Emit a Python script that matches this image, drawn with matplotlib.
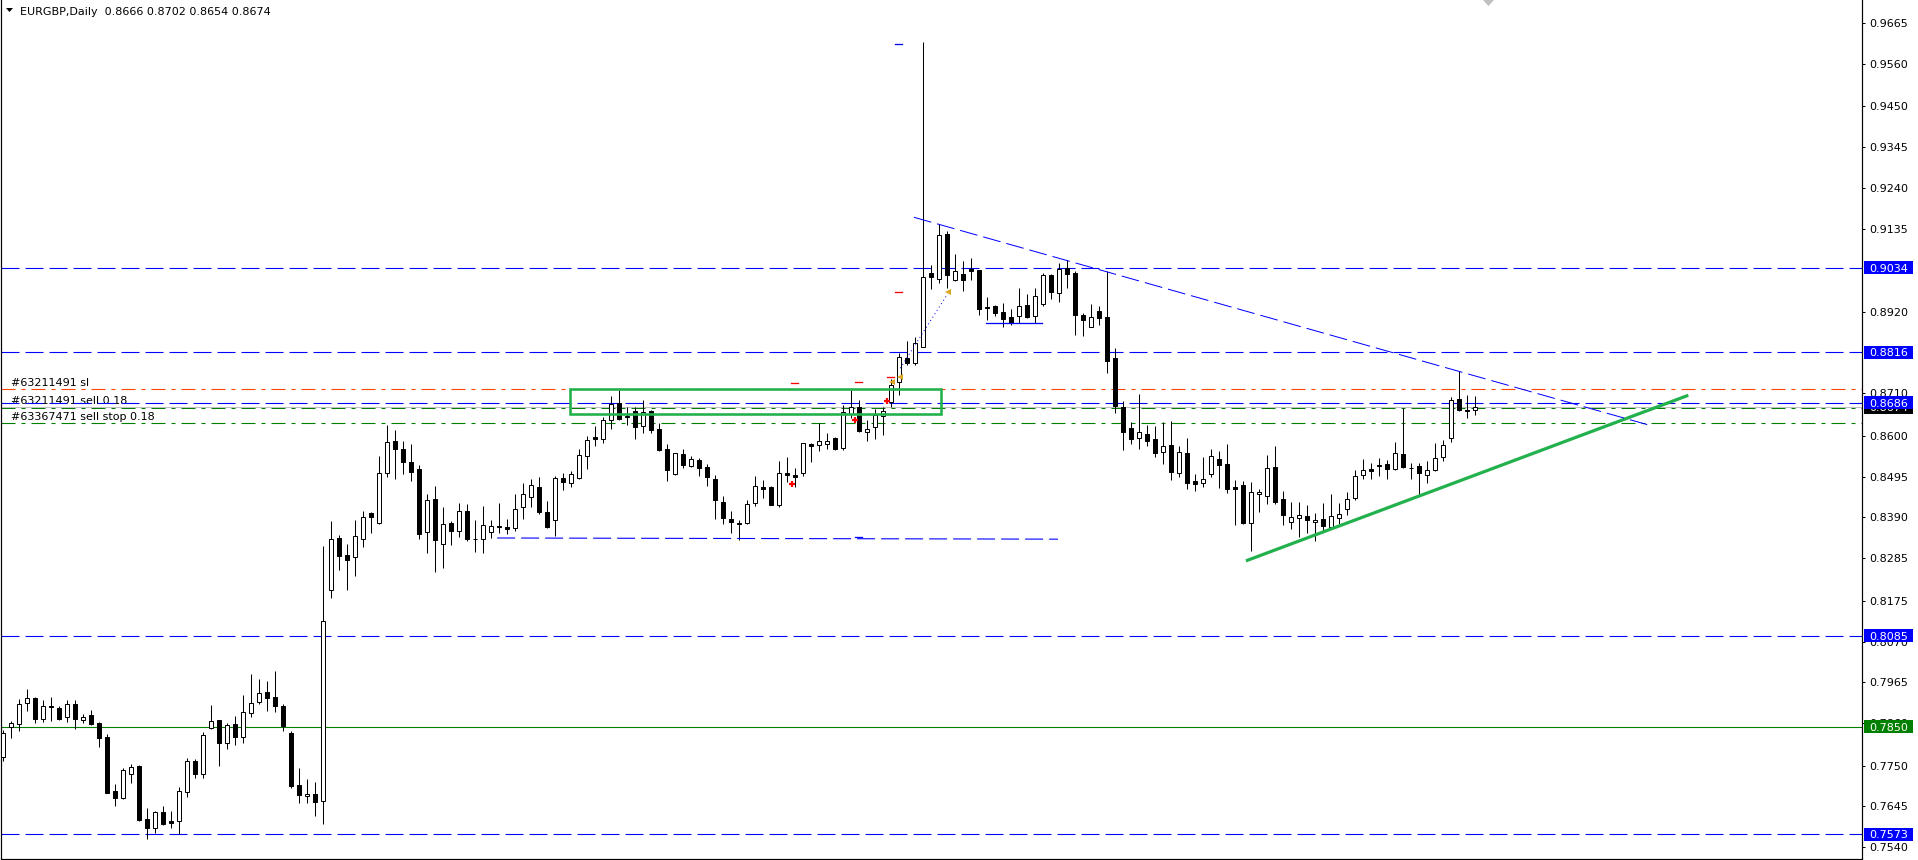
import matplotlib.pyplot as plt
import numpy as np
from matplotlib.patches import Rectangle, Polygon

plt.rcParams['font.family'] = ['DejaVu Sans']
plt.rcParams['lines.scale_dashes'] = False

# EURGBP daily candles
opens = [0.7773, 0.7849, 0.7857, 0.7911, 0.7924, 0.7871, 0.7903, 0.7898, 0.7875, 0.7908,
         0.7867, 0.7880, 0.7859, 0.7823, 0.7684, 0.7666, 0.7728, 0.7749, 0.7612, 0.7588,
         0.7630, 0.7606, 0.7608, 0.7683, 0.7761, 0.7729, 0.7848, 0.7867, 0.7808, 0.7857,
         0.7825, 0.7885, 0.7913, 0.7939, 0.7927, 0.7904, 0.7834, 0.7700, 0.7671, 0.7678,
         0.7660, 0.8202, 0.8337, 0.8293, 0.8287, 0.8334, 0.8401, 0.8375, 0.8504, 0.8586,
         0.8566, 0.8533, 0.8515, 0.8352, 0.8437, 0.8321, 0.8375, 0.8354, 0.8406, 0.8335,
         0.8334, 0.8352, 0.8367, 0.8365, 0.8364, 0.8416, 0.8442, 0.8468, 0.8403, 0.8383,
         0.8491, 0.8478, 0.8491, 0.8548, 0.8597, 0.8591, 0.8640, 0.8685, 0.8649, 0.8664,
         0.8625, 0.8664, 0.8617, 0.8566, 0.8501, 0.8553, 0.8522, 0.8537, 0.8519, 0.8489,
         0.8429, 0.8385, 0.8376, 0.8375, 0.8426, 0.8468, 0.8468, 0.8423, 0.8504, 0.8499,
         0.8504, 0.8579, 0.8576, 0.8580, 0.8594, 0.8570, 0.8657, 0.8674, 0.8611, 0.8622,
         0.8651, 0.8688, 0.8738, 0.8801, 0.8789, 0.8829, 0.9020, 0.9006, 0.9121, 0.9002,
         0.9018, 0.9030, 0.9028, 0.8932, 0.8935, 0.8919, 0.8906, 0.8910, 0.8937, 0.8909,
         0.8940, 0.9016, 0.8968, 0.9034, 0.9020, 0.8911, 0.8880, 0.8922, 0.8907, 0.8801,
         0.8675, 0.8621, 0.8594, 0.8605, 0.8592, 0.8558, 0.8577, 0.8504, 0.8556, 0.8485,
         0.8478, 0.8501, 0.8541, 0.8528, 0.8468, 0.8474, 0.8375, 0.8451, 0.8444, 0.8520,
         0.8437, 0.8377, 0.8389, 0.8393, 0.8377, 0.8385, 0.8365, 0.8388, 0.8411, 0.8439,
         0.8499, 0.8514, 0.8522, 0.8527, 0.8514, 0.8553, 0.8518, 0.8523, 0.8499, 0.8512,
         0.8545, 0.8594, 0.8695, 0.8667, 0.8666]
highs = [0.7842, 0.7865, 0.7921, 0.7947, 0.7926, 0.7918, 0.7926, 0.7903, 0.7918, 0.7918,
         0.7882, 0.7893, 0.7863, 0.7831, 0.7703, 0.7743, 0.7754, 0.7751, 0.7641, 0.7632,
         0.7646, 0.7632, 0.7695, 0.7769, 0.7766, 0.7836, 0.7906, 0.7867, 0.7859, 0.7877,
         0.7932, 0.7986, 0.7973, 0.7968, 0.7994, 0.7909, 0.7838, 0.7744, 0.7715, 0.7708,
         0.8317, 0.8382, 0.8345, 0.8322, 0.8383, 0.8407, 0.8403, 0.8549, 0.8628, 0.8615,
         0.8587, 0.8580, 0.8525, 0.8450, 0.8471, 0.8417, 0.8381, 0.8427, 0.8425, 0.8383,
         0.8420, 0.8383, 0.8427, 0.8387, 0.8450, 0.8478, 0.8489, 0.8494, 0.8432, 0.8497,
         0.8505, 0.8510, 0.8567, 0.8600, 0.8626, 0.8650, 0.8704, 0.8719, 0.8674, 0.8674,
         0.8692, 0.8666, 0.8633, 0.8579, 0.8557, 0.8566, 0.8548, 0.8542, 0.8527, 0.8499,
         0.8444, 0.8407, 0.8383, 0.8434, 0.8497, 0.8487, 0.8471, 0.8536, 0.8546, 0.8517,
         0.8581, 0.8583, 0.8633, 0.8608, 0.8597, 0.8679, 0.8719, 0.8693, 0.8641, 0.8669,
         0.8674, 0.8747, 0.8814, 0.8845, 0.8854, 0.9616, 0.9041, 0.9147, 0.9128, 0.9069,
         0.9050, 0.9058, 0.9028, 0.8959, 0.8938, 0.8942, 0.8927, 0.8981, 0.8965, 0.8981,
         0.9020, 0.9019, 0.9045, 0.9054, 0.9025, 0.8916, 0.8940, 0.8934, 0.9026, 0.8827,
         0.8690, 0.8635, 0.8708, 0.8628, 0.8626, 0.8636, 0.8639, 0.8573, 0.8595, 0.8501,
         0.8546, 0.8567, 0.8561, 0.8579, 0.8487, 0.8484, 0.8481, 0.8463, 0.8550, 0.8574,
         0.8457, 0.8430, 0.8430, 0.8422, 0.8401, 0.8427, 0.8450, 0.8427, 0.8456, 0.8513,
         0.8541, 0.8531, 0.8542, 0.8539, 0.8585, 0.8671, 0.8531, 0.8530, 0.8536, 0.8581,
         0.8590, 0.8701, 0.8767, 0.8706, 0.8702]
lows = [0.7763, 0.7820, 0.7840, 0.7892, 0.7861, 0.7863, 0.7866, 0.7868, 0.7863, 0.7845,
        0.7859, 0.7856, 0.7799, 0.7679, 0.7647, 0.7665, 0.7704, 0.7608, 0.7562, 0.7575,
        0.7596, 0.7588, 0.7573, 0.7670, 0.7719, 0.7719, 0.7844, 0.7750, 0.7794, 0.7804,
        0.7808, 0.7876, 0.7908, 0.7892, 0.7887, 0.7840, 0.7691, 0.7653, 0.7654, 0.7621,
        0.7599, 0.8181, 0.8255, 0.8204, 0.8240, 0.8315, 0.8351, 0.8374, 0.8495, 0.8490,
        0.8503, 0.8485, 0.8335, 0.8299, 0.8250, 0.8260, 0.8320, 0.8340, 0.8328, 0.8302,
        0.8299, 0.8338, 0.8351, 0.8348, 0.8356, 0.8387, 0.8418, 0.8400, 0.8363, 0.8343,
        0.8462, 0.8468, 0.8490, 0.8516, 0.8575, 0.8583, 0.8618, 0.8640, 0.8628, 0.8591,
        0.8609, 0.8609, 0.8562, 0.8485, 0.8499, 0.8518, 0.8521, 0.8498, 0.8472, 0.8387,
        0.8374, 0.8351, 0.8333, 0.8373, 0.8420, 0.8439, 0.8421, 0.8418, 0.8482, 0.8468,
        0.8496, 0.8534, 0.8562, 0.8566, 0.8563, 0.8563, 0.8647, 0.8611, 0.8588, 0.8592,
        0.8603, 0.8675, 0.8707, 0.8783, 0.8783, 0.8829, 0.8980, 0.8995, 0.8981, 0.9000,
        0.8975, 0.9001, 0.8912, 0.8899, 0.8910, 0.8880, 0.8885, 0.8891, 0.8903, 0.8891,
        0.8934, 0.8954, 0.8946, 0.8981, 0.8860, 0.8857, 0.8880, 0.8885, 0.8763, 0.8660,
        0.8565, 0.8580, 0.8567, 0.8573, 0.8547, 0.8527, 0.8487, 0.8495, 0.8464, 0.8459,
        0.8469, 0.8493, 0.8467, 0.8454, 0.8370, 0.8374, 0.8304, 0.8405, 0.8425, 0.8424,
        0.8371, 0.8361, 0.8340, 0.8351, 0.8330, 0.8354, 0.8365, 0.8374, 0.8395, 0.8434,
        0.8490, 0.8490, 0.8498, 0.8490, 0.8512, 0.8517, 0.8490, 0.8447, 0.8480, 0.8509,
        0.8535, 0.8584, 0.8665, 0.8647, 0.8654]
closes = [0.7835, 0.7859, 0.7908, 0.7924, 0.7871, 0.7903, 0.7900, 0.7871, 0.7908, 0.7871,
          0.7875, 0.7858, 0.7820, 0.7680, 0.7666, 0.7738, 0.7746, 0.7610, 0.7588, 0.7630,
          0.7600, 0.7603, 0.7684, 0.7761, 0.7729, 0.7828, 0.7865, 0.7809, 0.7854, 0.7825,
          0.7888, 0.7911, 0.7936, 0.7925, 0.7903, 0.7851, 0.7698, 0.7673, 0.7676, 0.7657,
          0.8123, 0.8334, 0.8291, 0.8279, 0.8341, 0.8390, 0.8392, 0.8504, 0.8584, 0.8567,
          0.8532, 0.8506, 0.8348, 0.8435, 0.8333, 0.8372, 0.8354, 0.8406, 0.8335, 0.8334,
          0.8370, 0.8367, 0.8365, 0.8361, 0.8413, 0.8450, 0.8473, 0.8405, 0.8366, 0.8491,
          0.8482, 0.8501, 0.8550, 0.8589, 0.8593, 0.8640, 0.8683, 0.8645, 0.8652, 0.8624,
          0.8661, 0.8616, 0.8564, 0.8512, 0.8555, 0.8524, 0.8540, 0.8517, 0.8493, 0.8436,
          0.8389, 0.8377, 0.8372, 0.8424, 0.8470, 0.8463, 0.8423, 0.8504, 0.8500, 0.8493,
          0.8581, 0.8575, 0.8586, 0.8586, 0.8567, 0.8661, 0.8674, 0.8614, 0.8617, 0.8653,
          0.8664, 0.8731, 0.8803, 0.8787, 0.8839, 0.9009, 0.9011, 0.9118, 0.9016, 0.9026,
          0.9001, 0.9026, 0.8928, 0.8929, 0.8918, 0.8901, 0.8892, 0.8934, 0.8906, 0.8960,
          0.9014, 0.8971, 0.9030, 0.9019, 0.8911, 0.8898, 0.8906, 0.8903, 0.8794, 0.8678,
          0.8611, 0.8591, 0.8610, 0.8588, 0.8555, 0.8573, 0.8506, 0.8558, 0.8480, 0.8475,
          0.8489, 0.8549, 0.8524, 0.8464, 0.8464, 0.8375, 0.8455, 0.8455, 0.8517, 0.8431,
          0.8395, 0.8390, 0.8395, 0.8384, 0.8383, 0.8369, 0.8393, 0.8398, 0.8437, 0.8497,
          0.8512, 0.8509, 0.8524, 0.8514, 0.8555, 0.8521, 0.8517, 0.8504, 0.8512, 0.8543,
          0.8576, 0.8692, 0.8668, 0.8664, 0.8674]

title_text = "EURGBP,Daily  0.8666 0.8702 0.8654 0.8674"

# horizontal objects
blue_levels = [0.9034, 0.8816, 0.8686, 0.8085, 0.7573]
green_level = 0.7850
sl_level = 0.8721
bid_level = 0.8674
stop_level = 0.8633
order_texts = ["#63211491 sl", "#63211491 sell 0.18", "#63367471 sell stop 0.18"]
order_levels = [0.8721, 0.8686, 0.8633]

# price scale tick labels (some sit under the level boxes, as on the terminal)
tick_values = [0.9665, 0.9560, 0.9450, 0.9345, 0.9240, 0.9135, 0.8920,
               0.8710, 0.8600, 0.8495, 0.8390, 0.8285, 0.8175, 0.8070,
               0.7965, 0.7860, 0.7750, 0.7645, 0.7540]
price_boxes = [(0.9034, "blue"), (0.8816, "blue"), (0.8674, "black"),
               (0.8686, "blue"), (0.8085, "blue"), (0.7850, "#008000"),
               (0.7573, "blue")]

# drawn objects (bar index, price)
green_box = [(70.85, 0.8657), (117.3, 0.8721)]
green_trend = [(155.4, 0.8278), (210.7, 0.8705)]
blue_trend = [(113.9, 0.9164), (205.8, 0.8628)]
blue_support = [(61.8, 0.8337), (131.9, 0.8334)]
blue_short = [(122.9, 0.8891), (129.9, 0.8891)]
trade_dotted = [(112.2, 0.8775), (118.1, 0.8966)]
red_marks = [(99.0, 0.8736), (107.0, 0.8739), (111.0, 0.8751), (112.0, 0.8971)]
blue_marks = [(112.0, 0.9610), (107.0, 0.8340)]
red_arrows = [(98.6, 0.8476), (106.5, 0.8640), (110.5, 0.8690)]
orange_arrows = [(111.1, 0.8738), (112.2, 0.8753), (118.2, 0.8971)]

PX = 0.72  # one screen pixel in points
DASH = (0, (18 * PX, 6 * PX))
DASHDOT = (0, (14 * PX, 6 * PX, 4 * PX, 6 * PX))


def ax_x(px):
    return (px - 1) / 1861


def plot_candles(ax):
    o = np.array(opens)
    h = np.array(highs)
    l = np.array(lows)
    c = np.array(closes)
    x = np.arange(len(o))
    up = c >= o
    ax.vlines(x, l, h, color="black", lw=1.0 * PX, zorder=3)
    ax.bar(x, np.abs(c - o), bottom=np.minimum(o, c), width=0.5,
           color=np.where(up, "white", "black"), edgecolor="black",
           linewidth=1.0 * PX, zorder=4)


def plot_levels(ax):
    for lv in blue_levels:
        ax.axhline(lv, color="blue", lw=PX * 1.1, ls=DASH, zorder=2)
    ax.axhline(green_level, color="#008000", lw=PX * 1.1, zorder=2)
    ax.axhline(sl_level, color="orangered", lw=PX * 1.1, ls=DASHDOT, zorder=2)
    ax.axhline(bid_level, color="#c0c0c0", lw=PX * 1.1, zorder=1.8)
    ax.axhline(bid_level - 0.0001, color="#008000", lw=PX, ls=DASHDOT, zorder=1.9)
    ax.axhline(stop_level, color="#008000", lw=PX * 1.1, ls=DASHDOT, zorder=2)

    offsets = [4.9, 1.6, 4.9]
    for txt, lv, off in zip(order_texts, order_levels, offsets):
        ax.annotate(txt, xy=(ax_x(11), lv), xycoords=ax.get_yaxis_transform(),
                    xytext=(0, off), textcoords="offset points",
                    fontsize=8, va="center_baseline", ha="left", zorder=1.7)


def plot_objects(ax):
    (x0, y0), (x1, y1) = green_box
    ax.add_patch(Rectangle((x0, y0), x1 - x0, y1 - y0, fill=False,
                           ec="#22b14c", lw=2.6 * PX, zorder=5))
    xs, ys = zip(*green_trend)
    ax.plot(xs, ys, color="#22b14c", lw=3.2 * PX, zorder=5,
            solid_capstyle="butt")
    xs, ys = zip(*blue_trend)
    ax.plot(xs, ys, color="blue", lw=PX, ls=DASH, zorder=5)
    xs, ys = zip(*blue_support)
    ax.plot(xs, ys, color="blue", lw=1.1 * PX, ls=DASH, zorder=5)
    xs, ys = zip(*blue_short)
    ax.plot(xs, ys, color="blue", lw=1.3 * PX, zorder=5)
    xs, ys = zip(*trade_dotted)
    ax.plot(xs, ys, color="blue", lw=PX, ls=(0, (1 * PX, 3 * PX)), zorder=5)
    for x, y in red_marks:
        ax.plot([x - 0.45, x + 0.45], [y, y], color="red", lw=1.3 * PX, zorder=5)
    for x, y in blue_marks:
        ax.plot([x - 0.45, x + 0.45], [y, y], color="blue", lw=1.3 * PX, zorder=5)
    xs, ys = zip(*red_arrows)
    ax.plot(xs, ys, ls="none", marker="+", ms=5, mew=1.6, color="red", zorder=6)
    xs, ys = zip(*orange_arrows)
    ax.plot(xs, ys, ls="none", marker="<", ms=4, mew=0, color="#daa520", zorder=6)


def price_axis(ax):
    ax.yaxis.tick_right()
    ax.set_yticks(tick_values)
    ax.set_yticklabels(["%.4f" % v for v in tick_values])
    ax.tick_params(axis="y", direction="out", length=3 * PX, width=PX,
                   pad=3, labelsize=8, colors="black")
    ax.set_xticks([])

    ytr = ax.get_yaxis_transform()
    hh = 6.5 / 3878
    for k, (lv, col) in enumerate(price_boxes):
        z = 7 + 2 * k
        ax.add_patch(Rectangle((ax_x(1864), lv - hh), ax_x(1913) - ax_x(1864),
                               2 * hh, transform=ytr, fc=col, ec="none",
                               clip_on=False, zorder=z))
        ax.text(ax_x(1888.5), lv, "%.4f" % lv, transform=ytr, color="white",
                fontsize=8, ha="center", va="center_baseline",
                clip_on=False, zorder=z + 1)


def chart():
    fig = plt.figure(figsize=(19.18, 8.6), dpi=100)
    ax = fig.add_axes([1 / 1918, 1 / 860, 1861 / 1918, 859 / 860])
    ax.set_xlim(-0.2125, 232.41)
    ax.set_ylim(0.75092, 0.97243)
    for side in ["left", "bottom", "right"]:
        ax.spines[side].set_linewidth(1.2 * PX)
    ax.spines["top"].set_visible(False)

    plot_levels(ax)
    plot_candles(ax)
    plot_objects(ax)
    price_axis(ax)

    fig.text(20.5 / 1918, 1 - 10.7 / 860, title_text, fontsize=8,
             ha="left", va="center_baseline")
    fig.patches.append(Polygon([[6 / 1918, 1 - 8 / 860], [13 / 1918, 1 - 8 / 860],
                                [9.5 / 1918, 1 - 12 / 860]], closed=True,
                               fc="black", ec="none", transform=fig.transFigure))
    fig.patches.append(Polygon([[1483 / 1918, 1.0], [1494 / 1918, 1.0],
                                [1488.5 / 1918, 1 - 6 / 860]], closed=True,
                               fc="#c0c0c0", ec="none", transform=fig.transFigure))
    return fig


fig = chart()
fig.savefig("out.png", dpi=100)
